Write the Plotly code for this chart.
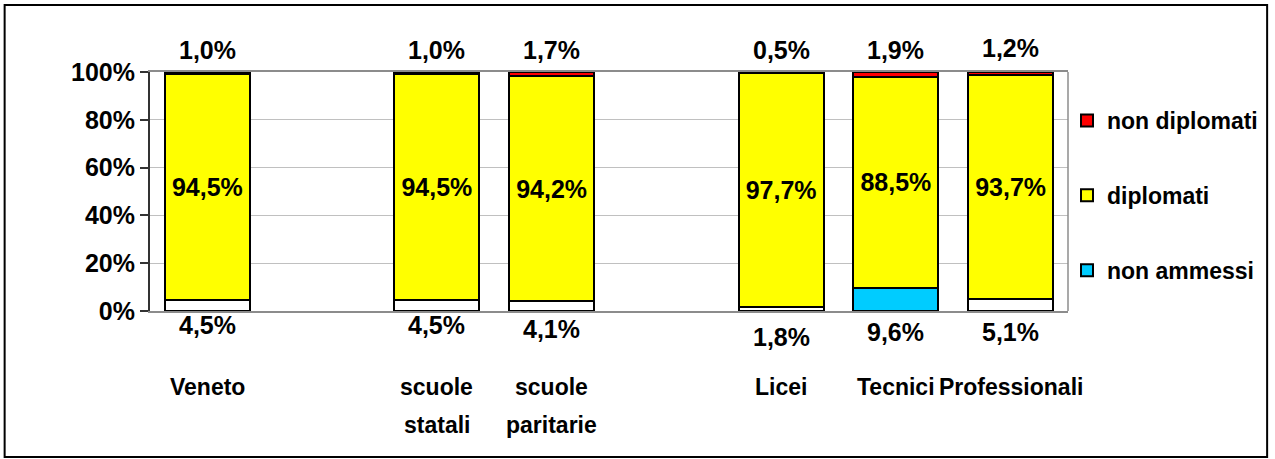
import plotly.graph_objects as go

# ---- data ----
groups = [["Veneto"], ["scuole statali", "scuole paritarie"], ["Licei", "Tecnici", "Professionali"]]
category_labels = ["Veneto", "scuole<br>statali", "scuole<br>paritarie", "Licei", "Tecnici", "Professionali"]
non_ammessi = [4.5, 4.5, 4.1, 1.8, 9.6, 5.1]
diplomati = [94.5, 94.5, 94.2, 97.7, 88.5, 93.7]
non_diplomati = [1.0, 1.0, 1.7, 0.5, 1.9, 1.2]
y_ticks = [0, 20, 40, 60, 80, 100]

# ---- slot positions (one blank slot between groups) ----
xs = []
pos = 0
for g in groups:
    for _ in g:
        xs.append(pos)
        pos += 1
    pos += 1
last_slot = xs[-1]

FONT = "Liberation Sans"
RED = "#FF0000"
YELLOW = "#FFFF00"
CYAN = "#00CCFF"
na_colors = ["white", "white", "white", "white", CYAN, "white"]


def fmt(v):
    return f"{v:.1f}".replace(".", ",") + "%"


L, R, T, B = 150, 203, 72, 148
W, H = 1275, 459
PW, PH = W - L - R, H - T - B

fig = go.Figure()
line = dict(color="black", width=2)

fig.add_trace(go.Bar(x=xs, y=non_ammessi, name="non ammessi", marker=dict(color=na_colors, line=line),
                     showlegend=False, legendgroup="na", legendrank=3, hoverinfo="skip"))
fig.add_trace(go.Bar(x=[None], y=[None], name="non ammessi", marker=dict(color=CYAN, line=line),
                     legendgroup="na", legendrank=3, showlegend=True))
fig.add_trace(go.Bar(x=xs, y=diplomati, name="diplomati", marker=dict(color=YELLOW, line=line),
                     legendgroup="d", legendrank=2, text=[fmt(v) for v in diplomati], textposition="inside",
                     insidetextanchor="middle", textangle=0, constraintext="none",
                     textfont=dict(family=FONT, size=25, color="black", weight="bold")))
fig.add_trace(go.Bar(x=xs, y=non_diplomati, name="non diplomati", marker=dict(color=RED, line=line),
                     legendgroup="nd", legendrank=1))

# top labels (non diplomati)
top_shift = [22, 22, 22, 22, 22, 24]
for x, v, s in zip(xs, non_diplomati, top_shift):
    fig.add_annotation(x=x, y=100, xref="x", yref="y", text="<b>" + fmt(v) + "</b>", showarrow=False,
                       yanchor="middle", yshift=s, font=dict(family=FONT, size=25, color="black"))

# bottom labels (non ammessi)
bot_shift = [14, 14, 18, 26, 21, 21]
for x, v, s in zip(xs, non_ammessi, bot_shift):
    fig.add_annotation(x=x, y=0, xref="x", yref="y", text="<b>" + fmt(v) + "</b>", showarrow=False,
                       yanchor="middle", yshift=-s, font=dict(family=FONT, size=25, color="black"))

# category labels
for x, lab in zip(xs, category_labels):
    for i, part in enumerate(lab.split("<br>")):
        fig.add_annotation(x=x, y=0, xref="x", yref="y", text="<b>" + part + "</b>", showarrow=False,
                           yanchor="middle", yshift=-(76 + 38 * i),
                           font=dict(family=FONT, size=23, color="black"))

# right plot border and outer chart border
fig.add_shape(type="line", xref="paper", yref="paper", x0=1, x1=1, y0=0, y1=1,
              line=dict(color="#8c8c8c", width=1.5))
fig.add_shape(type="rect", xref="paper", yref="paper",
              x0=(4 - L) / PW, x1=(1272 - L) / PW, y0=(T + PH - 457) / PH, y1=(T + PH - 5) / PH,
              line=dict(color="black", width=2))

fig.update_layout(
    width=W, height=H,
    margin=dict(l=L, r=R, t=T, b=B),
    barmode="stack", bargap=0.26,
    plot_bgcolor="white", paper_bgcolor="white",
    font=dict(family=FONT, color="black"),
    showlegend=True,
    legend=dict(traceorder="grouped", x=(1071 - L) / PW, xanchor="left",
                y=(T + PH - 99) / PH, yanchor="top",
                tracegroupgap=42, font=dict(family=FONT, size=23, color="black", weight="bold"),
                itemwidth=30, bgcolor="rgba(0,0,0,0)"),
    xaxis=dict(range=[-0.5, last_slot + 0.5], showticklabels=False, showgrid=False, zeroline=False,
               showline=True, linecolor="#8c8c8c", linewidth=1.5, mirror=True, ticks=""),
    yaxis=dict(range=[0, 100], tickvals=y_ticks, ticktext=[f"<b>{v}%</b>" for v in y_ticks],
               tickfont=dict(family=FONT, size=25, color="black"), ticks="outside", ticklen=8,
               tickcolor="#333333", tickwidth=1.5, showline=True, linecolor="#333333", linewidth=2,
               showgrid=True, gridcolor="#c0c0c0", gridwidth=1, zeroline=False),
)

fig.write_html("out.html", config={"displayModeBar": False},
               post_script="document.body.style.margin='0';")
